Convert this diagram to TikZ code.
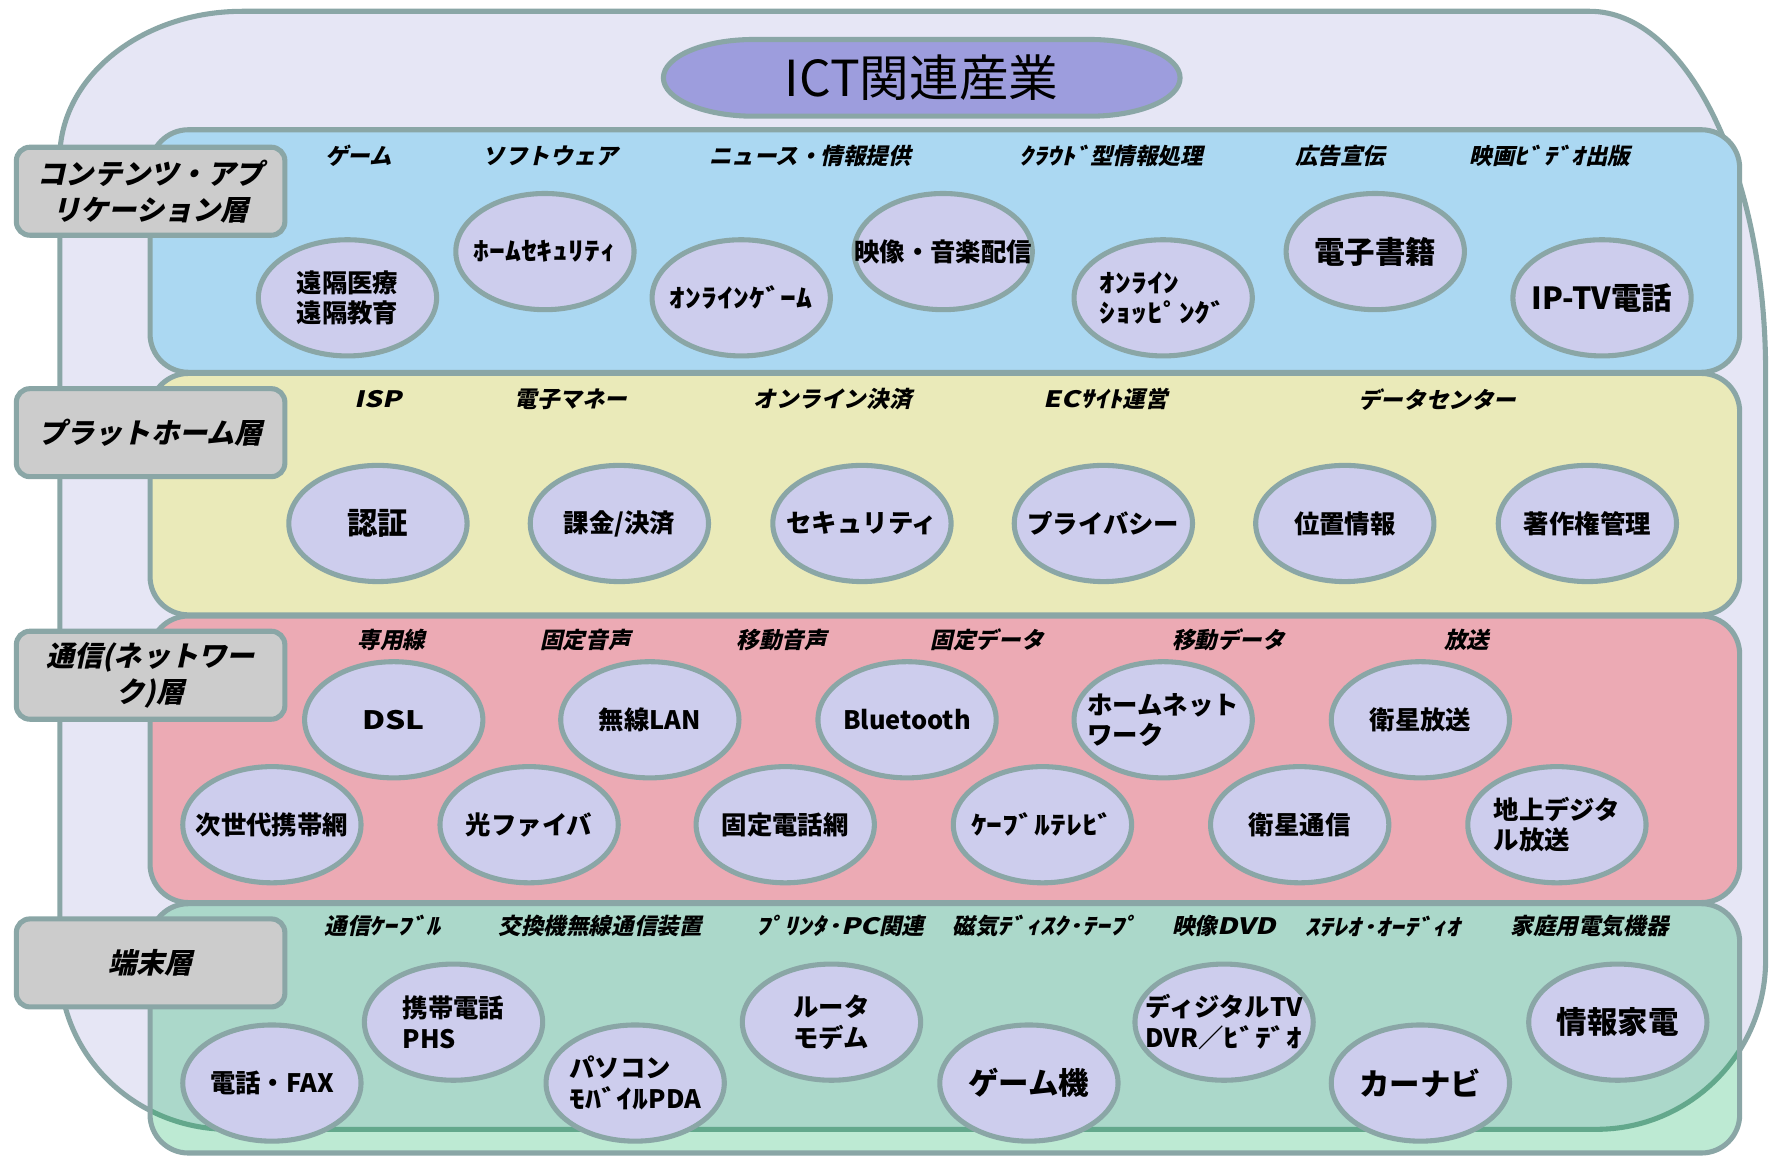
\documentclass[tikz,border=0pt]{standalone}
\usepackage{fontspec}
\usetikzlibrary{shapes.geometric}
\newfontfamily\jp{Noto Sans CJK JP}
\newfontfamily\jpit[FakeSlant=0.22]{Noto Sans CJK JP}
\newfontfamily\hwup[FakeStretch=1.25]{Noto Sans CJK JP}
\newfontfamily\hwit[FakeStretch=1.25,FakeSlant=0.22]{Noto Sans CJK JP}
\newcommand\hu[1]{{\hwup #1}}
\newcommand\hi[1]{{\hwit #1}}
\definecolor{outf}{HTML}{E6E6F5}
\definecolor{bord}{HTML}{8AA6A6}
\definecolor{bluef}{HTML}{ABD8F2}
\definecolor{yelf}{HTML}{EAEAB9}
\definecolor{pinkf}{HTML}{ECAAB4}
\definecolor{grnlt}{HTML}{BDEAD3}
\definecolor{grndk}{HTML}{ABD8CA}
\definecolor{grnline}{HTML}{63A88C}
\definecolor{ellf}{HTML}{CDCDED}
\definecolor{titf}{HTML}{9D9DDD}
\definecolor{labf}{HTML}{CCCCCC}
\tikzset{
  outerpath/.style={insert path={(215,10) -- (1409,10) .. controls (1495.2,10) and (1565,153.3) .. (1565,330) -- (1565,851) .. controls (1565,933.8) and (1497.8,1001) .. (1415,1001) -- (203,1001) .. controls (120.2,1001) and (53,936.1) .. (53,856) -- (53,140) .. controls (53,68.2) and (125.5,10) .. (215,10) -- cycle}},
  bd/.style={draw=bord, line width=4.5pt},
  band/.style={bd, rounded corners=34pt},
  ell/.style={ellipse, draw=bord, line width=4.5pt, fill=ellf, minimum width=158pt, minimum height=103pt, inner sep=0pt},
  etxt/.style={font=\jp\bfseries\fontsize{22.5}{27}\selectfont, inner sep=0pt, align=center, text=black},
  etxtl/.style={etxt, align=left},
  ebig/.style={font=\jp\bfseries\fontsize{27}{30}\selectfont, inner sep=0pt, text=black},
  hdr/.style={font=\jpit\bfseries\fontsize{20}{22}\selectfont, inner sep=0pt},
  labbox/.style={draw=bord, line width=4.5pt, fill=labf, rounded corners=12pt, minimum width=238pt, minimum height=78pt, inner sep=0pt, align=center, font=\jpit\bfseries\fontsize{25}{32}\selectfont},
}
\begin{document}
\begin{tikzpicture}[x=1pt, y=-1pt]
\useasboundingbox (0,0) rectangle (1568,1025);
\fill[white] (0,0) rectangle (1568,1025);
% outer shape
\draw[bd, fill=outf, outerpath];
% bands
\draw[band, fill=bluef] (133,115) rectangle (1542,330);
\draw[band, fill=yelf] (133,331) rectangle (1542,545);
\draw[band, fill=pinkf] (133,546) rectangle (1542,800);
\fill[grnlt, rounded corners=34pt] (133,801) rectangle (1542,1022);
\begin{scope}
  \clip[rounded corners=34pt] (133,801) rectangle (1542,1022);
  \fill[grndk, outerpath];
  \draw[grnline, line width=4.5pt, outerpath];
\end{scope}
\draw[band] (133,801) rectangle (1542,1022);
% title
\draw[bd, fill=titf] (668,35) -- (966,35) .. controls (1010.2,35) and (1046,50.2) .. (1046,69) .. controls (1046,87.8) and (1010.2,103) .. (966,103) -- (668,103) .. controls (623.8,103) and (588,87.8) .. (588,69) .. controls (588,50.2) and (623.8,35) .. (668,35) -- cycle;
\node[font=\jp\fontsize{44}{48}\selectfont, inner sep=0pt] (title) at (817,69) {ICT関連産業};
% layer labels
\node[labbox] (lab1) at (133.5,169.5) {コンテンツ・アプ\\リケーション層};
\node[labbox] (lab2) at (133.5,383.5) {プラットホーム層};
\node[labbox] (lab3) at (133.5,598.5) {通信(ネットワー\\ク)層};
\node[labbox] (lab4) at (133.5,853.5) {端末層};
% headers: contents
\node[hdr] (h11) at (318,138) {ゲーム};
\node[hdr] (h12) at (488,138) {ソフトウェア};
\node[hdr] (h13) at (718,138) {ニュース・情報提供};
\node[hdr] (h14) at (985,138) {\hi{ｸﾗｳﾄﾞ}型情報処理};
\node[hdr] (h15) at (1188,138) {広告宣伝};
\node[hdr] (h16) at (1374,138) {映画\hi{ﾋﾞﾃﾞｵ}出版};
% headers: platform
\node[hdr] (h21) at (335,354) {\hi{ISP}};
\node[hdr] (h22) at (506,354) {電子マネー};
\node[hdr] (h23) at (738,354) {オンライン決済};
\node[hdr] (h24) at (980,354) {\hi{ECｻｲﾄ}運営};
\node[hdr] (h25) at (1274,354) {データセンター};
% headers: network
\node[hdr] (h31) at (347,567) {専用線};
\node[hdr] (h32) at (519,567) {固定音声};
\node[hdr] (h33) at (693,567) {移動音声};
\node[hdr] (h34) at (875,567) {固定データ};
\node[hdr] (h35) at (1089,567) {移動データ};
\node[hdr] (h36) at (1300,567) {放送};
% headers: terminal
\node[hdr] (h41) at (339,821) {通信\hi{ｹｰﾌﾞﾙ}};
\node[hdr] (h42) at (532,821) {交換機無線通信装置};
\node[hdr] (h43) at (745,821) {\hi{ﾌﾟﾘﾝﾀ･PC}関連};
\node[hdr] (h44) at (927,821) {磁気\hi{ﾃﾞｨｽｸ･ﾃｰﾌﾟ}};
\node[hdr] (h45) at (1085,821) {映像\hi{DVD}};
\node[hdr] (h46) at (1226,821) {\hi{ｽﾃﾚｵ･ｵｰﾃﾞｨｵ}};
\node[hdr] (h47) at (1409,821) {家庭用電気機器};
% content ellipses
\node[ell, label={[etxt]center:{遠隔医療\\遠隔教育}}] (c1) at (308,264) {};
\node[ell, label={[etxt]center:{\hu{ﾎｰﾑｾｷｭﾘﾃｨ}}}] (c2) at (483,223) {};
\node[ell, label={[etxt]center:{\hu{ｵﾝﾗｲﾝｹﾞｰﾑ}}}] (c3) at (657,264) {};
\node[ell, label={[etxt]center:{映像・音楽配信}}] (c4) at (836,223) {};
\node[ell, label={[etxtl]center:{\hu{ｵﾝﾗｲﾝ}\\\hu{ｼｮｯﾋﾟﾝｸﾞ}}}] (c5) at (1031,264) {};
\node[ell, label={[ebig]center:{電子書籍}}] (c6) at (1219,223) {};
\node[ell, label={[ebig]center:{IP-TV電話}}] (c7) at (1420,264) {};
% platform ellipses
\node[ell, label={[ebig]center:{認証}}] (p1) at (335,464) {};
\node[ell, label={[etxt]center:{課金/決済}}] (p2) at (549,464) {};
\node[ell, label={[etxt]center:{セキュリティ}}] (p3) at (764,464) {};
\node[ell, label={[etxt]center:{プライバシー}}] (p4) at (978,464) {};
\node[ell, label={[etxt]center:{位置情報}}] (p5) at (1192,464) {};
\node[ell, label={[etxt]center:{著作権管理}}] (p6) at (1407,464) {};
% network ellipses
\node[ell, label={[etxt]center:{\hu{DSL}}}] (n1) at (349,638) {};
\node[ell, label={[etxt]center:{無線LAN}}] (n2) at (576,638) {};
\node[ell, label={[etxt]center:{Bluetooth}}] (n3) at (804,638) {};
\node[ell, label={[etxtl]center:{ホームネット\\ワーク}}] (n4) at (1031,638) {};
\node[ell, label={[etxt]center:{衛星放送}}] (n5) at (1259,638) {};
\node[ell, label={[etxt]center:{次世代携帯網}}] (n6) at (241,731) {};
\node[ell, label={[etxt]center:{光ファイバ}}] (n7) at (469,731) {};
\node[ell, label={[etxt]center:{固定電話網}}] (n8) at (696,731) {};
\node[ell, label={[etxt]center:{\hu{ｹｰﾌﾞﾙﾃﾚﾋﾞ}}}] (n9) at (924,731) {};
\node[ell, label={[etxt]center:{衛星通信}}] (n10) at (1152,731) {};
\node[ell, label={[etxtl]center:{地上デジタ\\ル放送}}] (n11) at (1380,731) {};
% terminal ellipses
\node[ell, label={[etxt]center:{電話・FAX}}] (t1) at (241,960) {};
\node[ell, label={[etxtl]center:{携帯電話\\PHS}}] (t2) at (402,906) {};
\node[ell, label={[etxtl]center:{パソコン\\\hu{ﾓﾊﾞｲﾙ}PDA}}] (t3) at (563,960) {};
\node[ell, label={[etxtl]center:{ルータ\\モデム}}] (t4) at (737,906) {};
\node[ell, label={[ebig]center:{ゲーム機}}] (t5) at (912,960) {};
\node[ell, label={[etxtl]center:{ディジタルTV\\DVR／\hu{ﾋﾞﾃﾞｵ}}}] (t6) at (1085,906) {};
\node[ell, label={[ebig]center:{カーナビ}}] (t7) at (1259,960) {};
\node[ell, label={[ebig]center:{情報家電}}] (t8) at (1434,906) {};
\end{tikzpicture}
\end{document}
